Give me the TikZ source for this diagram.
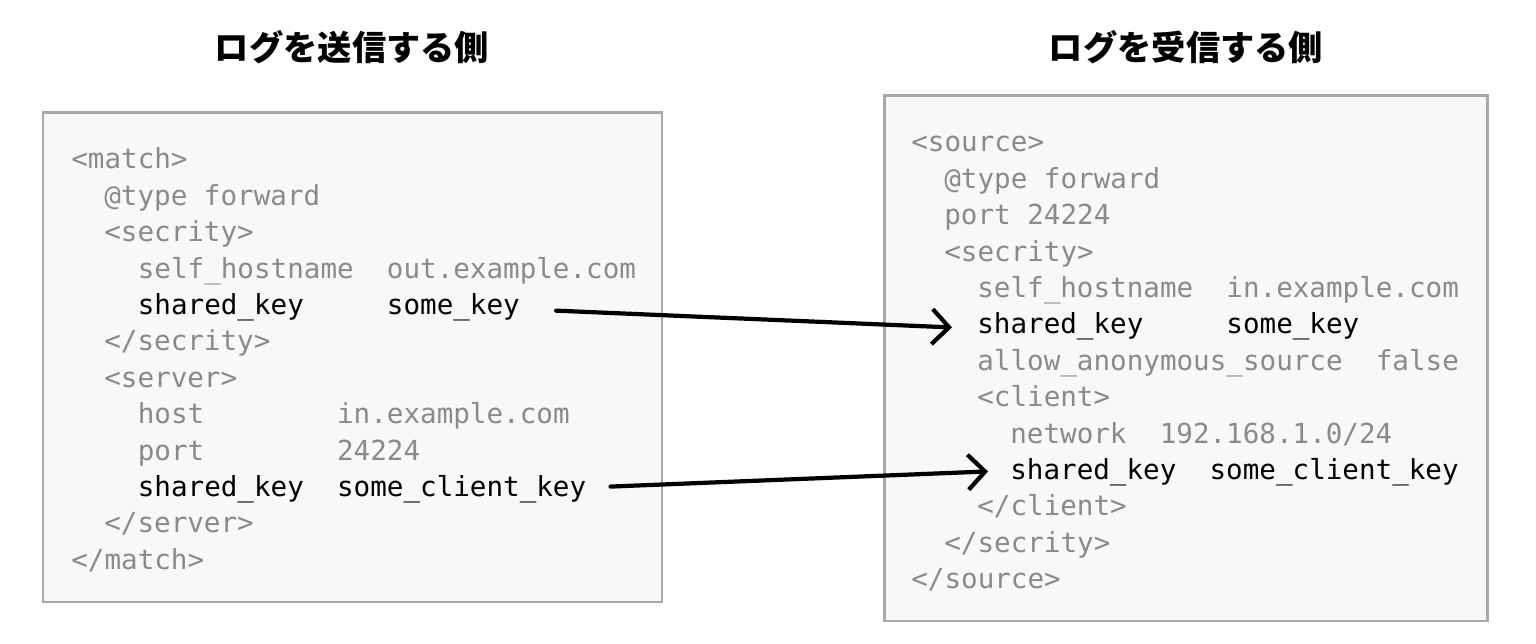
\documentclass[tikz,border=0pt]{standalone}
\usepackage{fontspec}
\setmonofont{DejaVu Sans Mono}
\newfontfamily\cjk{Noto Sans CJK JP}
\usetikzlibrary{arrows.meta}
\definecolor{codegray}{HTML}{8A8A8A}
\definecolor{boxline}{HTML}{A8A8A8}
\definecolor{boxfill}{HTML}{F8F8F8}
\newcommand{\codefont}{\fontsize{15.7}{20}\ttfamily}
\tikzset{
  code/.style={anchor=base west, inner sep=0pt, font=\codefont, text=codegray},
  key/.style={code, text=black},
  panel/.style={draw=boxline, fill=boxfill, line width=1.7pt},
  title/.style={font=\cjk\bfseries\fontsize{19.5}{22}\selectfont},
  link/.style={line width=2.4pt, line cap=round, -{Straight Barb[length=0.34cm, width=0.7cm]}}
}
\begin{document}
\begin{tikzpicture}[x=0.02cm, y=-0.02cm]
\useasboundingbox (0,0) rectangle (1536,644);
% titles
\node[title] (tsend) at (352,47) {ログを送信する側};
\node[title] (trecv) at (1186,47) {ログを受信する側};
% panels
\draw[panel] (43,113) rectangle (662,602);
\draw[panel] (884,96) rectangle (1487,621);
\begin{scope}[shift={(0,3)}]
% sender side
\node[code] (l1) at (71,166) {<match>};
\node[code] (l2) at (104,202.4) {@type~forward};
\node[code] (l3) at (104,238.8) {<secrity>};
\node[code] (l4) at (137.5,275.2) {self\_hostname~~out.example.com};
\node[key] (l5) at (137.5,311.6) {shared\_key~~~~~some\_key};
\node[code] (l6) at (104,348) {</secrity>};
\node[code] (l7) at (104,384.4) {<server>};
\node[code] (l8) at (137.5,420.8) {host~~~~~~~~in.example.com};
\node[code] (l9) at (137.5,457.2) {port~~~~~~~~24224};
\node[key] (l10) at (137.5,493.6) {shared\_key~~some\_client\_key};
\node[code] (l11) at (104,530) {</server>};
\node[code] (l12) at (71,566.4) {</match>};
% receiver side
\node[code] (r1) at (911,149) {<source>};
\node[code] (r2) at (944,185.4) {@type~forward};
\node[code] (r3) at (944,221.8) {port~24224};
\node[code] (r4) at (944,258.2) {<secrity>};
\node[code] (r5) at (977,294.6) {self\_hostname~~in.example.com};
\node[key] (r6) at (977,331) {shared\_key~~~~~some\_key};
\node[code] (r7) at (977,367.4) {allow\_anonymous\_source~~false};
\node[code] (r8) at (977,403.8) {<client>};
\node[code] (r9) at (1010,440.2) {network~~192.168.1.0/24};
\node[key] (r10) at (1010,476.6) {shared\_key~~some\_client\_key};
\node[code] (r11) at (977,513) {</client>};
\node[code] (r12) at (944,549.4) {</secrity>};
\node[code] (r13) at (911,585.8) {</source>};
\end{scope}
% keys
\draw[link, shorten <=0.72cm, shorten >=0.5cm] ([yshift=-1pt]l5.east) -- ([yshift=-1pt]r6.west);
\draw[link, shorten <=0.48cm, shorten >=0.44cm] ([yshift=1pt]l10.east) -- ([yshift=1pt]r10.west);
\end{tikzpicture}
\end{document}
